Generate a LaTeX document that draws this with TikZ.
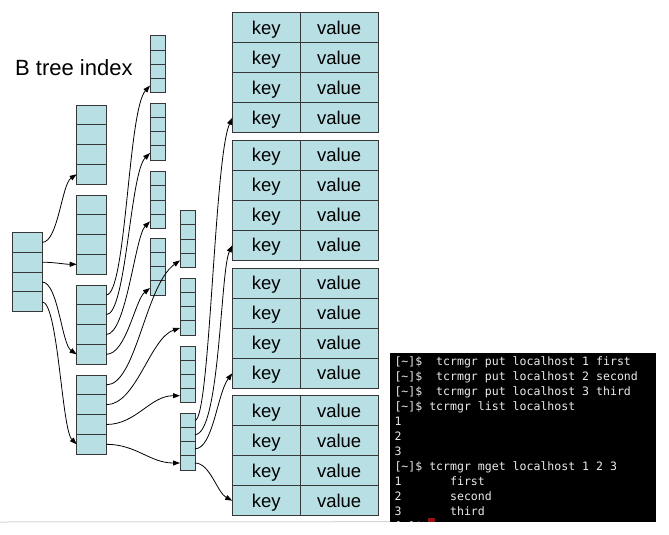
\documentclass[tikz,border=0pt]{standalone}
\usepackage{fontspec}
\setmainfont{Liberation Sans}
\newfontfamily\termfont{DejaVu Sans Mono}
\usetikzlibrary{arrows.meta}
\definecolor{cellfill}{RGB}{184,223,228}
\definecolor{celledge}{RGB}{55,55,55}
\definecolor{rulegray}{RGB}{214,214,214}
\definecolor{cursorred}{RGB}{150,18,18}
\begin{document}
\frenchspacing
\begin{tikzpicture}[x=1pt, y=-1pt,
  cell/.style={draw=celledge, fill=cellfill, line width=1pt, inner sep=0pt, outer sep=0pt},
  wide/.style={cell, minimum width=29.6pt, minimum height=19.8pt},
  thin/.style={cell, minimum width=15pt, minimum height=14.2pt},
  kvtext/.style={cell, minimum height=30pt, text height=16.8pt, text depth=3.6pt, font=\fontsize{18.5}{20}\selectfont},
  kcell/.style={kvtext, minimum width=67.7pt},
  vcell/.style={kvtext, minimum width=78.3pt},
  link/.style={draw, line width=0.8pt, -{Triangle[length=7pt,width=5pt]}},
  term/.style={anchor=base west, inner sep=0pt, text=white!92!black, font=\termfont\fontsize{11.55}{15}\selectfont}]
\useasboundingbox (0,0) rectangle (669,535);
\node[anchor=base west, inner sep=0pt, font=\fontsize{22}{26}\selectfont] (title) at (15,75) {B tree index};
% root block
\foreach \i in {1,...,4}
  \node[wide] (rt\i) at (27.3, 222.6+\i*19.8) {};
% second level
\foreach \n/\y in {a/95.1, b/185.1, c/275.1, d/365.1}
  \foreach \i in {1,...,4}
    \node[wide] (i\n\i) at (91.5, \y+\i*19.8) {};
% third level, two columns
\foreach \n/\y in {a/28.9, b/96.2, c/164.6, d/231.2}
  \foreach \i in {1,...,4}
    \node[thin] (l\n\i) at (157.5, \y+\i*14.2) {};
\foreach \n/\y in {a/203.6, b/271.2, c/338.9, d/406.2}
  \foreach \i in {1,...,4}
    \node[thin] (m\n\i) at (187.5, \y+\i*14.2) {};
% key value pages
\foreach \n/\y in {a/-2.3, b/125.3, c/253.3, d/380.7}
  \foreach \i in {1,...,4} {
    \node[kcell] (t\n k\i) at (266.15, \y+\i*30) {key};
    \node[vcell] (t\n v\i) at (339.15, \y+\i*30) {value};
  }
\draw[link] (rt1.east) .. controls +(16,0) and +(-15,10) .. (ia4.west);
\draw[link] (rt2.east) .. controls +(12,0) and +(-12,0) .. (ib4.west);
\draw[link] (rt3.east) .. controls +(16,0) and +(-15,-10) .. (ic4.west);
\draw[link] (rt4.east) .. controls +(16,0) and +(-15,-15) .. (id4.west);
\draw[link] (ic1.east) .. controls +(20,0) and +(-22,24) .. (la4.west);
\draw[link] (ic2.east) .. controls +(20,0) and +(-20,20) .. (lb4.west);
\draw[link] (ic3.east) .. controls +(20,0) and +(-15,15) .. (lc4.west);
\draw[link] (ic4.east) .. controls +(20,0) and +(-15,12) .. (ld4.west);
\draw[link] (id1.east) .. controls +(30,0) and +(-35,25) .. (ma4.west);
\draw[link] (id2.east) .. controls +(30,0) and +(-30,10) .. (mb4.west);
\draw[link] (id3.east) .. controls +(30,0) and +(-30,0) .. (mc4.west);
\draw[link] (id4.east) .. controls +(30,0) and +(-30,0) .. (md4.west);
\draw[link] (md1.east) .. controls +(15,0) and +(-18,40) .. (tak4.west);
\draw[link] (md2.east) .. controls +(25,0) and +(-12,25) .. (tbk4.west);
\draw[link] (md3.east) .. controls +(18,0) and +(-15,20) .. (tck4.west);
\draw[link] (md4.east) .. controls +(15,0) and +(-15,-8) .. (tdk4.west);
% terminal
\node[fill=black, minimum width=265.7pt, minimum height=168.4pt, inner sep=0pt, outer sep=0pt, anchor=north west] (shell) at (390,353.3) {};
\draw[rulegray, line width=1pt] (0,522) -- (shell.south west);
\begin{scope}
\clip (shell.south west) rectangle (shell.north east);
\node[term] (sh1) at (394.3,365) {[\textasciitilde]\$\ \ tcrmgr put localhost 1 first};
\node[term] (sh2) at (394.3,380) {[\textasciitilde]\$\ \ tcrmgr put localhost 2 second};
\node[term] (sh3) at (394.3,395) {[\textasciitilde]\$\ \ tcrmgr put localhost 3 third};
\node[term] (sh4) at (394.3,410) {[\textasciitilde]\$ tcrmgr list localhost};
\node[term] (sh5) at (394.3,425) {1};
\node[term] (sh6) at (394.3,440) {2};
\node[term] (sh7) at (394.3,455) {3};
\node[term] (sh8) at (394.3,470) {[\textasciitilde]\$ tcrmgr mget localhost 1 2 3};
\node[term] (sh9) at (394.3,485) {1\ \ \ \ \ \ \ first};
\node[term] (sh10) at (394.3,500) {2\ \ \ \ \ \ \ second};
\node[term] (sh11) at (394.3,515) {3\ \ \ \ \ \ \ third};
\node[term] (sh12) at (394.3,530) {[\textasciitilde]\$};
\fill[cursorred] (428.3,518) rectangle (435,533);
\end{scope}
\end{tikzpicture}
\end{document}
